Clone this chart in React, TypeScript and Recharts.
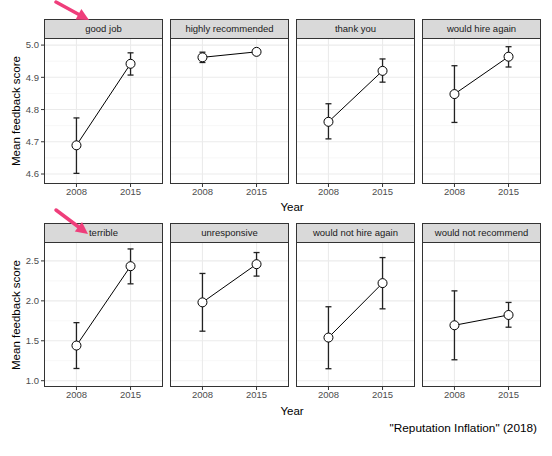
import React from 'react';
import { LineChart, Line, XAxis, YAxis, ErrorBar, ReferenceLine } from 'recharts';

// Phrase panels, mean feedback score by year with error bars
const years = ['2008', '2015'];

const positivePhrases = ['good job', 'highly recommended', 'thank you', 'would hire again'];
const positiveMeans = [[4.689, 4.942], [4.962, 4.979], [4.762, 4.92], [4.848, 4.964]];
const positiveLows = [[4.602, 4.907], [4.946, 4.97], [4.709, 4.885], [4.76, 4.932]];
const positiveHighs = [[4.774, 4.976], [4.978, 4.988], [4.818, 4.957], [4.936, 4.995]];
const positiveTicks = [4.6, 4.7, 4.8, 4.9, 5.0];
const positiveMinor = [4.65, 4.75, 4.85, 4.95];
const positiveDomain = [4.569, 5.022];

const negativePhrases = ['terrible', 'unresponsive', 'would not hire again', 'would not recommend'];
const negativeMeans = [[1.44, 2.434], [1.981, 2.459], [1.54, 2.222], [1.694, 1.823]];
const negativeLows = [[1.153, 2.213], [1.62, 2.31], [1.15, 1.9], [1.262, 1.67]];
const negativeHighs = [[1.727, 2.65], [2.343, 2.605], [1.926, 2.542], [2.125, 1.98]];
const negativeTicks = [1.0, 1.5, 2.0, 2.5];
const negativeMinor = [1.25, 1.75, 2.25];
const negativeDomain = [0.921, 2.737];

const FONT = '"Liberation Sans", Arial, Helvetica, sans-serif';
const PANEL_W = 119;
const PANEL_STEP = 126;
const PANEL_X0 = 44;
const STRIP_H = 20;
const Y_AXIS_W = 32;

const buildRows = (means: number[], lows: number[], highs: number[]) =>
  years.map((year, i) => ({
    x: i + 1,
    year,
    mean: means[i],
    err: [means[i] - lows[i], highs[i] - means[i]],
  }));

interface PanelProps {
  title: string;
  left: number;
  plotTop: number;
  plotH: number;
  rows: any[];
  domain: number[];
  ticks: number[];
  minor: number[];
  showY: boolean;
}

const Panel = ({ title, left, plotTop, plotH, rows, domain, ticks, minor, showY }: PanelProps) => {
  const chartLeft = showY ? left - Y_AXIS_W : left;
  const chartW = showY ? PANEL_W + Y_AXIS_W : PANEL_W;
  return (
    <>
      <div
        style={{
          position: 'absolute',
          left,
          top: plotTop - STRIP_H + 1,
          width: PANEL_W,
          height: STRIP_H,
          boxSizing: 'border-box',
          border: '1px solid #333',
          background: '#d9d9d9',
          fontSize: 9.5,
          color: '#1a1a1a',
          textAlign: 'center',
          lineHeight: '18px',
        }}
      >
        {title}
      </div>
      <div style={{ position: 'absolute', left: chartLeft, top: plotTop }}>
        <LineChart
          width={chartW}
          height={plotH + 20}
          data={rows}
          margin={{ top: 0, right: 0, bottom: 0, left: 0 }}
        >
          <XAxis
            type="number"
            dataKey="x"
            domain={[0.4, 2.6]}
            ticks={[1, 2]}
            tickFormatter={(v: number) => years[v - 1]}
            axisLine={false}
            tickSize={3}
            tickMargin={1}
            height={20}
            stroke="#333"
            tick={{ fill: '#4d4d4d', fontSize: 9.5 }}
          />
          <YAxis
            type="number"
            domain={domain}
            ticks={ticks}
            hide={!showY}
            width={Y_AXIS_W}
            axisLine={false}
            tickSize={3}
            tickMargin={2}
            stroke="#333"
            tickFormatter={(v: number) => v.toFixed(1)}
            tick={{ fill: '#4d4d4d', fontSize: 9.5 }}
            allowDataOverflow
          />
          {minor.map((v) => (
            <ReferenceLine key={`mi-${v}`} y={v} stroke="#f2f2f2" strokeWidth={0.6} />
          ))}
          {ticks.map((v) => (
            <ReferenceLine key={`ma-${v}`} y={v} stroke="#ebebeb" strokeWidth={1.1} />
          ))}
          {[1, 2].map((v) => (
            <ReferenceLine key={`vx-${v}`} x={v} stroke="#ebebeb" strokeWidth={1.1} />
          ))}
          <Line
            dataKey="mean"
            stroke="#000"
            strokeWidth={1}
            isAnimationActive={false}
            dot={{ r: 4.5, fill: '#fff', stroke: '#000', strokeWidth: 1 }}
          >
            <ErrorBar dataKey="err" direction="y" width={3} stroke="#222" strokeWidth={1.3} />
          </Line>
        </LineChart>
      </div>
      <div
        style={{
          position: 'absolute',
          left,
          top: plotTop,
          width: PANEL_W,
          height: plotH,
          boxSizing: 'border-box',
          border: '1px solid #333',
          pointerEvents: 'none',
        }}
      />
    </>
  );
};

const arrowPoints = (sx: number, sy: number, tx: number, ty: number) => {
  const dx = tx - sx;
  const dy = ty - sy;
  const len = Math.sqrt(dx * dx + dy * dy);
  const ux = dx / len;
  const uy = dy / len;
  const bx = tx - ux * 12;
  const by = ty - uy * 12;
  return {
    shaft: { x1: sx, y1: sy, x2: bx + ux * 2, y2: by + uy * 2 },
    head: `${tx},${ty} ${bx - uy * 6},${by + ux * 6} ${bx + uy * 6},${by - ux * 6}`,
  };
};

const Arrow = ({ sx, sy, tx, ty }: { sx: number; sy: number; tx: number; ty: number }) => {
  const a = arrowPoints(sx, sy, tx, ty);
  return (
    <g>
      <line {...a.shaft} stroke="#ef3e7b" strokeWidth={3.5} strokeLinecap="round" />
      <polygon points={a.head} fill="#ef3e7b" />
    </g>
  );
};

const label = (text: string, style: React.CSSProperties) => (
  <div style={{ position: 'absolute', whiteSpace: 'nowrap', color: '#000', ...style }}>{text}</div>
);

export default function App() {
  const topPlot = 38;
  const topH = 146;
  const botPlot = 242;
  const botH = 145;
  return (
    <div
      style={{
        position: 'absolute',
        left: 0,
        top: 0,
        width: 552,
        height: 456,
        background: '#fff',
        fontFamily: FONT,
        overflow: 'hidden',
      }}
    >
      {positivePhrases.map((p, i) => (
        <Panel
          key={p}
          title={p}
          left={PANEL_X0 + i * PANEL_STEP}
          plotTop={topPlot}
          plotH={topH}
          rows={buildRows(positiveMeans[i], positiveLows[i], positiveHighs[i])}
          domain={positiveDomain}
          ticks={positiveTicks}
          minor={positiveMinor}
          showY={i === 0}
        />
      ))}
      {negativePhrases.map((p, i) => (
        <Panel
          key={p}
          title={p}
          left={PANEL_X0 + i * PANEL_STEP}
          plotTop={botPlot}
          plotH={botH}
          rows={buildRows(negativeMeans[i], negativeLows[i], negativeHighs[i])}
          domain={negativeDomain}
          ticks={negativeTicks}
          minor={negativeMinor}
          showY={i === 0}
        />
      ))}
      {label('Mean feedback score', {
        left: 16,
        top: topPlot + topH / 2,
        fontSize: 11.5,
        transform: 'translate(-50%, -50%) rotate(-90deg)',
      })}
      {label('Mean feedback score', {
        left: 16,
        top: botPlot + botH / 2,
        fontSize: 11.5,
        transform: 'translate(-50%, -50%) rotate(-90deg)',
      })}
      {label('Year', { left: 292, top: 207, fontSize: 11.5, transform: 'translate(-50%, -50%)' })}
      {label('Year', { left: 292, top: 411, fontSize: 11.5, transform: 'translate(-50%, -50%)' })}
      {label('"Reputation Inflation" (2018)', {
        right: 552 - 537,
        top: 428,
        fontSize: 11.8,
        transform: 'translateY(-50%)',
      })}
      <svg
        width={552}
        height={456}
        style={{ position: 'absolute', left: 0, top: 0, pointerEvents: 'none' }}
      >
        <Arrow sx={56} sy={2} tx={89} ty={20} />
        <Arrow sx={56} sy={210} tx={88} ty={234} />
      </svg>
    </div>
  );
}
